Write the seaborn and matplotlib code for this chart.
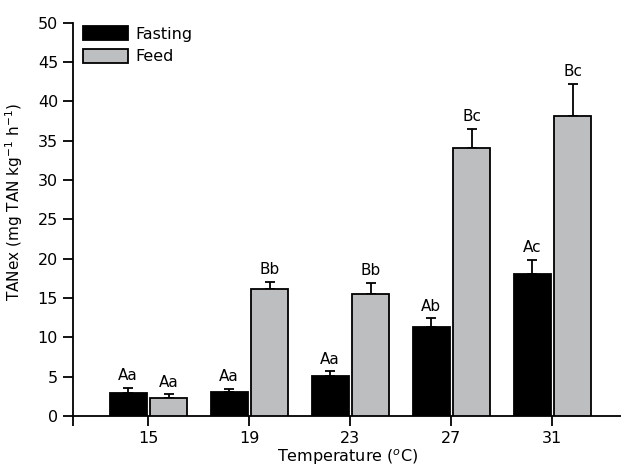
import numpy as np
import pandas as pd
import matplotlib
matplotlib.use('Agg')
import matplotlib.pyplot as plt
import seaborn as sns

# values
temperatures = ['15', '19', '23', '27', '31']
fasting_mean = [2.96, 3.05, 5.1, 11.25, 18.0]
fasting_err = [0.6, 0.35, 0.57, 1.15, 1.8]
feed_mean = [2.25, 16.1, 15.45, 34.1, 38.15]
feed_err = [0.5, 0.9, 1.5, 2.4, 4.05]
fasting_letters = ['Aa', 'Aa', 'Aa', 'Ab', 'Ac']
feed_letters = ['Aa', 'Bb', 'Bb', 'Bc', 'Bc']

df = pd.DataFrame({
    'Temperature': temperatures * 2,
    'TANex': fasting_mean + feed_mean,
    'Group': ['Fasting'] * 5 + ['Feed'] * 5,
})

sns.set_style('ticks')
plt.rcParams['font.family'] = ['DejaVu Sans']
plt.rcParams.update({'text.color': 'black', 'axes.labelcolor': 'black',
                     'xtick.color': 'black', 'ytick.color': 'black',
                     'axes.edgecolor': 'black'})

fig = plt.figure(figsize=(6.21, 4.67), dpi=100)
ax = fig.add_axes([0.118, 0.1092, 0.882, 0.8426])

sns.barplot(data=df, x='Temperature', y='TANex', hue='Group', order=temperatures,
            palette={'Fasting': 'black', 'Feed': '#bcbec0'}, width=0.8, gap=0.08,
            edgecolor='black', linewidth=1.3, errorbar=None, ax=ax, zorder=3)

# error bars (upper only) and significance letters
for cont, errs, letters in zip(ax.containers, [fasting_err, feed_err],
                               [fasting_letters, feed_letters]):
    xs = [b.get_x() + b.get_width() / 2 for b in cont]
    hs = [b.get_height() for b in cont]
    ax.errorbar(xs, hs, yerr=[np.zeros(len(errs)), errs], fmt='none',
                ecolor='black', elinewidth=1.3, capsize=3.3, capthick=1.3, zorder=2)
    for x, h, e, lab in zip(xs, hs, errs, letters):
        ax.annotate(lab, (x, h + e), xytext=(0, 3.5), textcoords='offset points',
                    ha='center', va='bottom', fontsize=11, color='black')

ax.set_xlim(-0.744, 4.68)
ax.set_ylim(0, 50)
ax.set_yticks(np.arange(0, 51, 5))
ax.set_xticks([-0.744], minor=True)
ax.tick_params(which='both', direction='out', length=7, width=1.3, labelsize=11.5, pad=4,
               color='black', labelcolor='black')
for s in ['top', 'right']:
    ax.spines[s].set_visible(False)
for s in ['left', 'bottom']:
    ax.spines[s].set_linewidth(1.3)
    ax.spines[s].set_color('black')

ax.set_xlabel('Temperature ($^{o}$C)', fontsize=11.5, labelpad=1, color='black')
ax.set_ylabel('TANex (mg TAN kg$^{-1}$ h$^{-1}$)', fontsize=11, color='black')
ax.yaxis.set_label_coords(-0.088, 0.544)

leg = ax.legend(loc='upper left', bbox_to_anchor=(0.018, 0.99), frameon=False, fontsize=11.5,
                borderpad=0, borderaxespad=0, handlelength=2.8, handleheight=0.95,
                labelspacing=0.45, handletextpad=0.45, title=None)
for t in leg.get_texts():
    t.set_color('black')

fig.savefig('out.png', dpi=100)
